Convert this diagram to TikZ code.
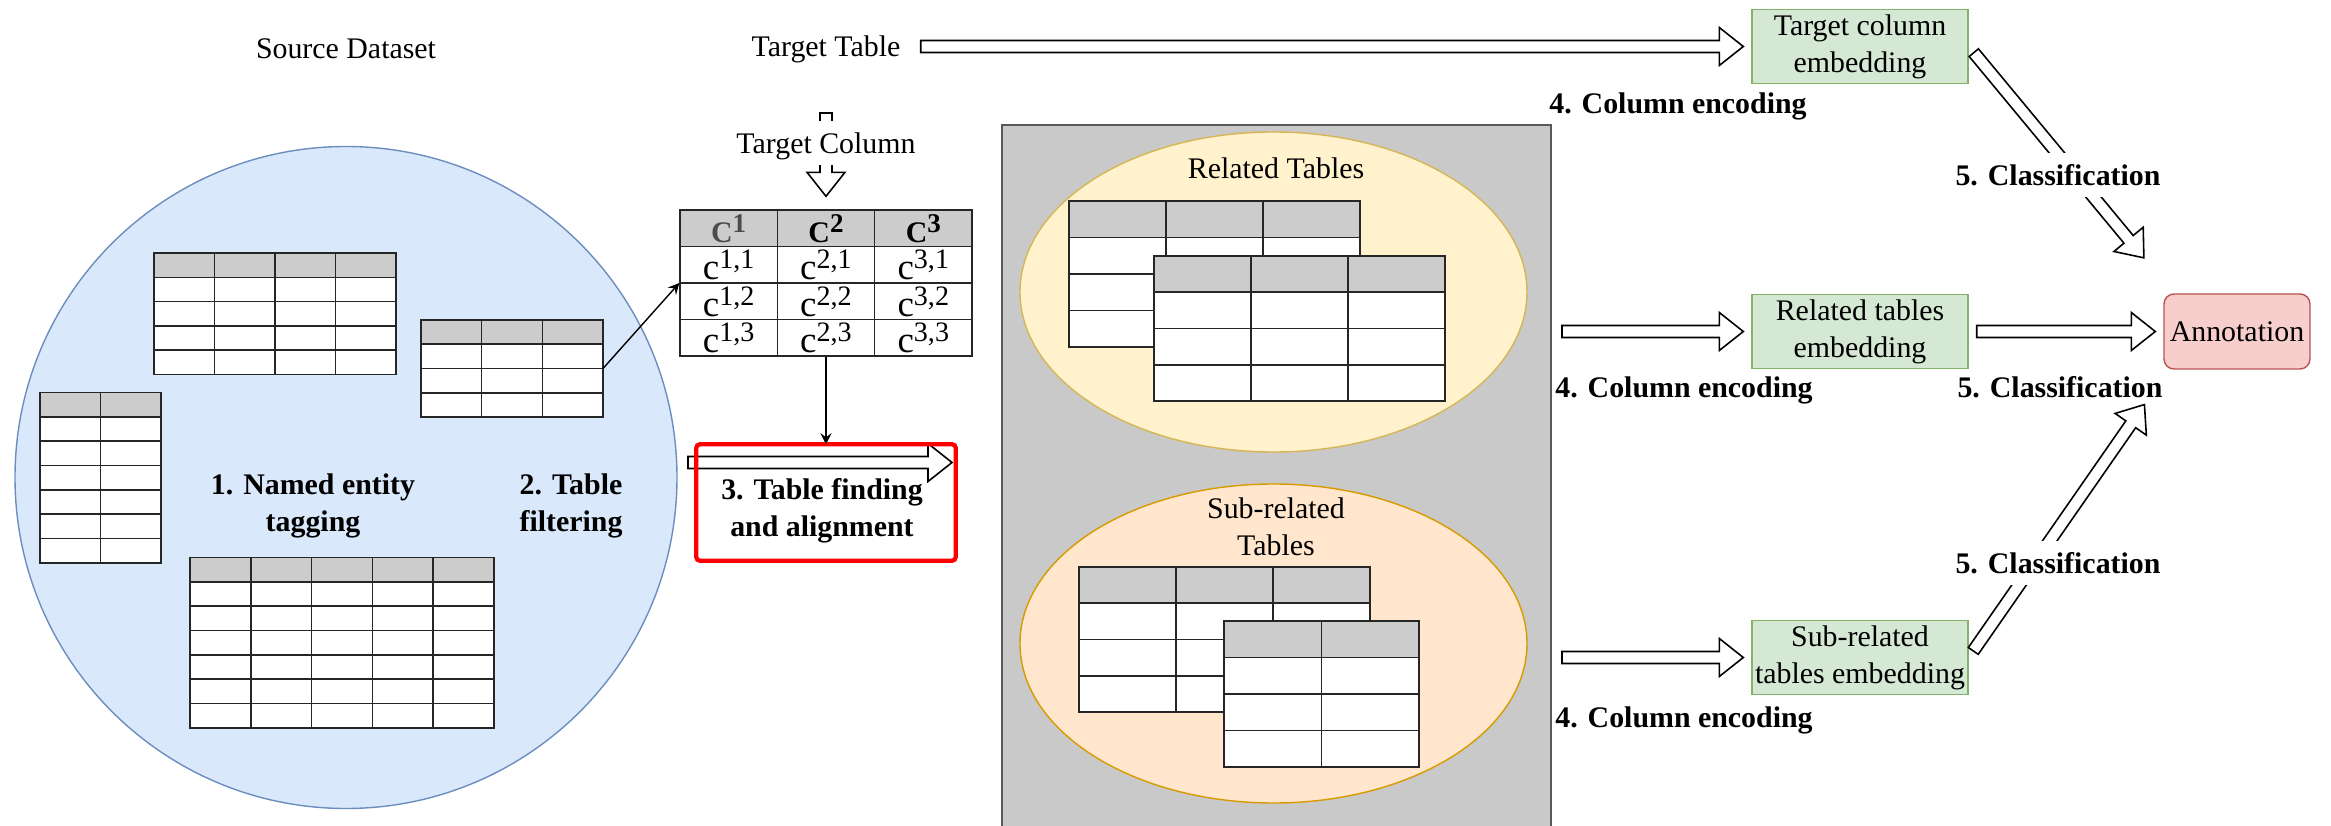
\documentclass[tikz,border=0pt]{standalone}
\usepackage{fontspec}
\setmainfont{Liberation Serif}
\usetikzlibrary{calc}

\definecolor{srcfill}{HTML}{DAE8FC}
\definecolor{srcedge}{HTML}{6C8EBF}
\definecolor{relfill}{HTML}{FFF2CC}
\definecolor{reledge}{HTML}{D6B656}
\definecolor{subfill}{HTML}{FFE6CC}
\definecolor{subedge}{HTML}{D79B00}
\definecolor{embfill}{HTML}{D5E8D4}
\definecolor{embedge}{HTML}{82B366}
\definecolor{annfill}{HTML}{F8CECC}
\definecolor{annedge}{HTML}{B85450}
\definecolor{hdrgrey}{HTML}{CCCCCC}
\definecolor{boxgrey}{HTML}{C9C9C9}

\tikzset{
  tabline/.style={draw=black!85, line width=0.45pt},
  lbl/.style={text height=1.6ex, text depth=0.3ex},
  steplbl/.style={lbl, inner sep=2pt, font=\fontsize{8.5}{10.5}\selectfont\bfseries},
  cover/.style={steplbl, fill=white},
  steptxt/.style={align=center, font=\fontsize{8.5}{10.5}\selectfont\bfseries},
  cell/.style={anchor=base, inner sep=0pt},
  emb/.style={draw=embedge, fill=embfill, minimum width=2.16cm, minimum height=0.74cm, inner sep=0pt, align=center},
  % hollow block arrow between two points
  fat/.style={draw=black, fill=white, line width=0.45pt,
    to path={let \p1=($(\tikztotarget)-(\tikztostart)$), \n1={atan2(\y1,\x1)} in
      ($(\tikztostart)+(\n1:#1)+(\n1+90:0.06cm)$)
      -- ($(\tikztotarget)+(\n1+180:#1)+(\n1+180:0.24cm)+(\n1+90:0.06cm)$)
      -- ($(\tikztotarget)+(\n1+180:#1)+(\n1+180:0.24cm)+(\n1+90:0.19cm)$)
      -- ($(\tikztotarget)+(\n1+180:#1)$)
      -- ($(\tikztotarget)+(\n1+180:#1)+(\n1+180:0.24cm)+(\n1-90:0.19cm)$)
      -- ($(\tikztotarget)+(\n1+180:#1)+(\n1+180:0.24cm)+(\n1-90:0.06cm)$)
      -- ($(\tikztostart)+(\n1:#1)+(\n1-90:0.06cm)$) -- cycle}},
  fat/.default=0.08cm,
}

% table with grey header: x0, y0 (top left), x1, y1 (bottom right), columns, rows
\newcommand{\datatab}[6]{%
  \fill[white] (#1,#2) rectangle (#3,#4);
  \fill[hdrgrey] (#1,#2) rectangle (#3,{(#2)-((#2)-(#4))/#6});
  \foreach \k in {1,...,#5}
    \draw[tabline] ({(#1)+\k*((#3)-(#1))/#5},#2) -- ({(#1)+\k*((#3)-(#1))/#5},#4);
  \foreach \k in {1,...,#6}
    \draw[tabline] (#1,{(#2)-\k*((#2)-(#4))/#6}) -- (#3,{(#2)-\k*((#2)-(#4))/#6});
  \draw[tabline] (#1,#2) rectangle (#3,#4);
}
\newcommand{\hsup}[1]{\textbf{C}\raisebox{3.1pt}{\fontsize{7.7}{9}\selectfont\bfseries #1}}
\newcommand{\csup}[1]{{\fontsize{10.5}{12}\selectfont c}\raisebox{3.4pt}{\fontsize{8}{9}\selectfont #1}}

\begin{document}
\begin{tikzpicture}[>=stealth, font=\fontsize{8.5}{10.5}\selectfont]
\useasboundingbox (0,0) rectangle (23.31,-8.26);

% Source dataset
\node[lbl] (srcds) at (3.46,-0.476) {Source Dataset};
\draw[draw=srcedge, fill=srcfill] (3.46,-4.775) circle (3.31cm);
\datatab{1.54}{-2.53}{3.96}{-3.745}{4}{5}
\datatab{4.21}{-3.20}{6.03}{-4.17}{3}{4}
\datatab{0.40}{-3.925}{1.61}{-5.63}{2}{7}
\datatab{1.90}{-5.575}{4.94}{-7.28}{5}{7}
\coordinate (t2out) at (6.03,-3.685);
\node[steptxt] (ner) at (3.13,-5.06) {1. Named entity\\tagging};
\node[steptxt] (filt) at (5.71,-5.06) {2. Table\\filtering};

% target table and column
\node[lbl] (tgttab) at (8.26,-0.465) {Target Table};
\datatab{6.80}{-2.10}{9.72}{-3.56}{3}{4}
\node[minimum width=2.92cm, minimum height=1.46cm, inner sep=0pt] (ctab) at (8.26,-2.83) {};
\node[cell, text=black!70] (h1) at (7.287,-2.43) {\hsup{1}};
\node[cell] (h2) at (8.26,-2.43) {\hsup{2}};
\node[cell] (h3) at (9.233,-2.43) {\hsup{3}};
\foreach \i/\x in {1/7.287,2/8.26,3/9.233}
  \foreach \j/\y in {1/-2.80,2/-3.17,3/-3.53}
    \node[cell] (c\i\j) at (\x,\y) {\csup{\i,\j}};
\coordinate (tcoltop) at (8.26,-1.00);
\draw[fat=0.13cm] (tcoltop) to (ctab.north);
\node[lbl, fill=white, inner sep=2pt] (tgtcol) at (8.26,-1.43) {Target Column};
\draw[->] (t2out) -- (ctab.west);

% table finding and alignment
\node[minimum width=2.58cm, minimum height=1.15cm] (tfa) at (8.26,-5.025) {};
\coordinate (alA) at (6.80,-4.625);
\coordinate (alB) at (9.60,-4.625);
\draw[fat] (alA) to (alB);
\draw[red, line width=1.2pt, rounded corners=1pt] (tfa.north west) rectangle (tfa.south east);
\node[steptxt] (tfatxt) at (8.22,-5.11) {3. Table finding\\and alignment};
\draw[->] (ctab.south) -- (tfa.north);

% related and sub-related tables
\fill[boxgrey] (10.02,-1.25) rectangle (15.51,-8.26);
\draw[black!65] (10.02,-8.26) -- (10.02,-1.25) -- (15.51,-1.25) -- (15.51,-8.26);
\draw[draw=reledge, fill=relfill] (12.735,-2.92) ellipse (2.535cm and 1.60cm);
\node[lbl] (reltxt) at (12.76,-1.685) {Related Tables};
\datatab{10.69}{-2.01}{13.60}{-3.47}{3}{4}
\datatab{11.54}{-2.56}{14.45}{-4.01}{3}{4}
\draw[draw=subedge, fill=subfill] (12.735,-6.435) ellipse (2.535cm and 1.595cm);
\node[align=center] (subtxt) at (12.76,-5.27) {Sub-related\\Tables};
\datatab{10.79}{-5.67}{13.70}{-7.12}{3}{4}
\datatab{12.24}{-6.21}{14.19}{-7.67}{2}{4}
\coordinate (relout) at (15.54,-3.315);
\coordinate (subout) at (15.54,-6.575);

% embeddings
\node[emb] (tce) at (18.60,-0.465) {Target column\\embedding};
\node[emb] (re) at (18.60,-3.315) {Related tables\\embedding};
\node[emb] (sre) at (18.60,-6.575) {Sub-related\\tables embedding};
\node[draw=annedge, fill=annfill, rounded corners=0.1cm, minimum width=1.46cm, minimum height=0.75cm, inner sep=0pt] (ann) at (22.37,-3.315) {Annotation};
\coordinate (cls1) at (21.49,-2.64);
\coordinate (cls2) at (21.49,-3.98);

\draw[fat] (tgttab.east) to (tce.west);
\draw[fat] (relout) to (re.west);
\draw[fat] (subout) to (sre.west);
\draw[fat] (re.east) to (ann.west);
\draw[fat] (tce.east) to (cls1);
\draw[fat] (sre.east) to (cls2);

\node[steplbl] (enc1) at (16.78,-1.03) {4. Column encoding};
\node[steplbl] (enc2) at (16.84,-3.87) {4. Column encoding};
\node[steplbl] (enc3) at (16.84,-7.17) {4. Column encoding};
\node[cover] (cls1txt) at (20.58,-1.75) {5. Classification};
\node[steplbl] (cls2txt) at (20.60,-3.87) {5. Classification};
\node[cover] (cls3txt) at (20.58,-5.63) {5. Classification};

\end{tikzpicture}
\end{document}
